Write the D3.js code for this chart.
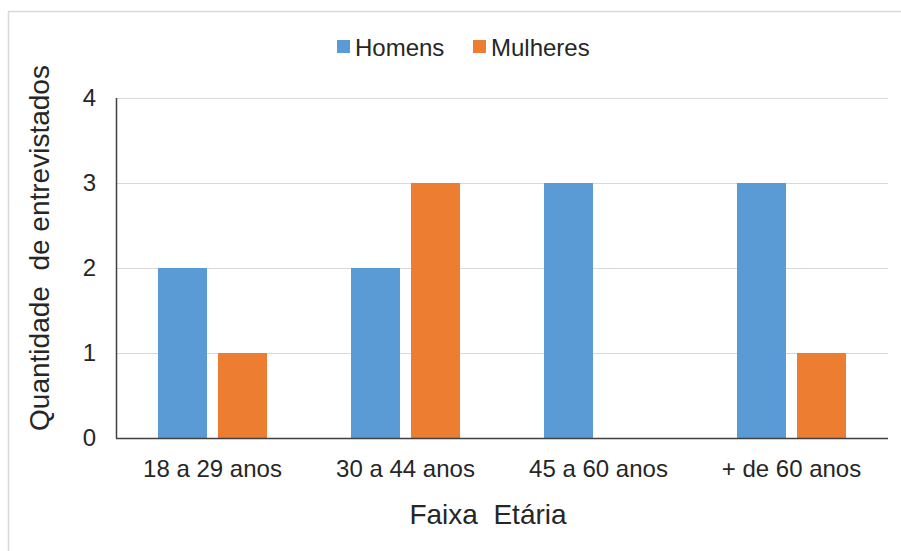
<!DOCTYPE html>
<html>
<head>
<meta charset="utf-8">
<script src="https://cdn.jsdelivr.net/npm/d3@7"></script>
<style>
  body { margin: 0; background: #fff; }
  text { font-family: "Liberation Sans", Arial, sans-serif; fill: #262626; white-space: pre; }
</style>
</head>
<body>
<script>
"use strict"

const categories = ["18 a 29 anos", "30 a 44 anos", "45 a 60 anos", "+ de 60 anos"]
const series     = ["Homens", "Mulheres"]
const homens     = [2, 2, 3, 3]
const mulheres   = [1, 3, 0, 1]
const yTicks     = [0, 1, 2, 3, 4]

const colors = { Homens : "#5b9bd5", Mulheres : "#ed7d31" }

const width  = 901
const height = 551
const plot   = { left : 116, right : 888, top : 98, bottom : 438 }

const rows = categories.map((c, i) => ({ category : c, Homens : homens[i], Mulheres : mulheres[i] }))

const x = d3.scaleBand().domain(categories).range([plot.left, plot.right])
const xSub = d3.scaleBand().domain(series).range([0, x.bandwidth()]).paddingInner(0.1833).paddingOuter(0.7)
const y = d3.scaleLinear().domain([0, 4]).range([plot.bottom, plot.top])

const svg = d3.select("body").append("svg")
  .attr("width", width)
  .attr("height", height)

// outer frame (only top and left edges visible)
svg.append("path")
  .attr("d", `M8.5,${height} V11.5 H${width}`)
  .attr("fill", "none")
  .attr("stroke", "#d9d9d9")
  .attr("stroke-width", 1.5)

// gridlines
svg.append("g").selectAll("line")
  .data(yTicks.filter(t => t > 0))
  .join("line")
  .attr("x1", plot.left)
  .attr("x2", plot.right)
  .attr("y1", d => Math.round(y(d)) + 0.5)
  .attr("y2", d => Math.round(y(d)) + 0.5)
  .attr("stroke", "#d9d9d9")

// bars
svg.append("g").selectAll("g")
  .data(rows)
  .join("g")
  .attr("transform", d => `translate(${x(d.category)},0)`)
  .selectAll("rect")
  .data(d => series.map(s => ({ key : s, value : d[s] })))
  .join("rect")
  .attr("x", d => xSub(d.key))
  .attr("width", xSub.bandwidth())
  .attr("y", d => y(d.value))
  .attr("height", d => y(0) - y(d.value))
  .attr("fill", d => colors[d.key])

// axes lines
svg.append("line")
  .attr("x1", plot.left + 0.5).attr("x2", plot.left + 0.5)
  .attr("y1", plot.top).attr("y2", plot.bottom)
  .attr("stroke", "#404040").attr("stroke-width", 1.5)
svg.append("line")
  .attr("x1", plot.left).attr("x2", plot.right)
  .attr("y1", plot.bottom + 0.5).attr("y2", plot.bottom + 0.5)
  .attr("stroke", "#404040").attr("stroke-width", 1.5)

// y tick labels
svg.append("g").selectAll("text")
  .data(yTicks)
  .join("text")
  .attr("x", 96)
  .attr("y", d => y(d))
  .attr("dy", "0.35em")
  .attr("text-anchor", "end")
  .attr("font-size", 24)
  .text(d => d)

// x tick labels
svg.append("g").selectAll("text")
  .data(categories)
  .join("text")
  .attr("x", d => x(d) + x.bandwidth() / 2)
  .attr("y", 477)
  .attr("text-anchor", "middle")
  .attr("font-size", 24)
  .text(d => d)

// axis titles (double spaces as in the original)
svg.append("text")
  .attr("x", 488)
  .attr("y", 524)
  .attr("text-anchor", "middle")
  .attr("font-size", 28)
  .text("Faixa  Etária")

svg.append("text")
  .attr("transform", "translate(49 248) rotate(-90)")
  .attr("text-anchor", "middle")
  .attr("font-size", 28)
  .text("Quantidade  de entrevistados")

// legend
const legend = svg.append("g").attr("transform", "translate(337 0)")
const legendX = [0, 136]
const items = legend.selectAll("g")
  .data(series)
  .join("g")
  .attr("transform", (d, i) => `translate(${legendX[i]},0)`)
items.append("rect")
  .attr("y", 40)
  .attr("width", 13)
  .attr("height", 13)
  .attr("fill", d => colors[d])
items.append("text")
  .attr("x", 18)
  .attr("y", 56)
  .attr("font-size", 24)
  .text(d => d)
</script>
</body>
</html>
